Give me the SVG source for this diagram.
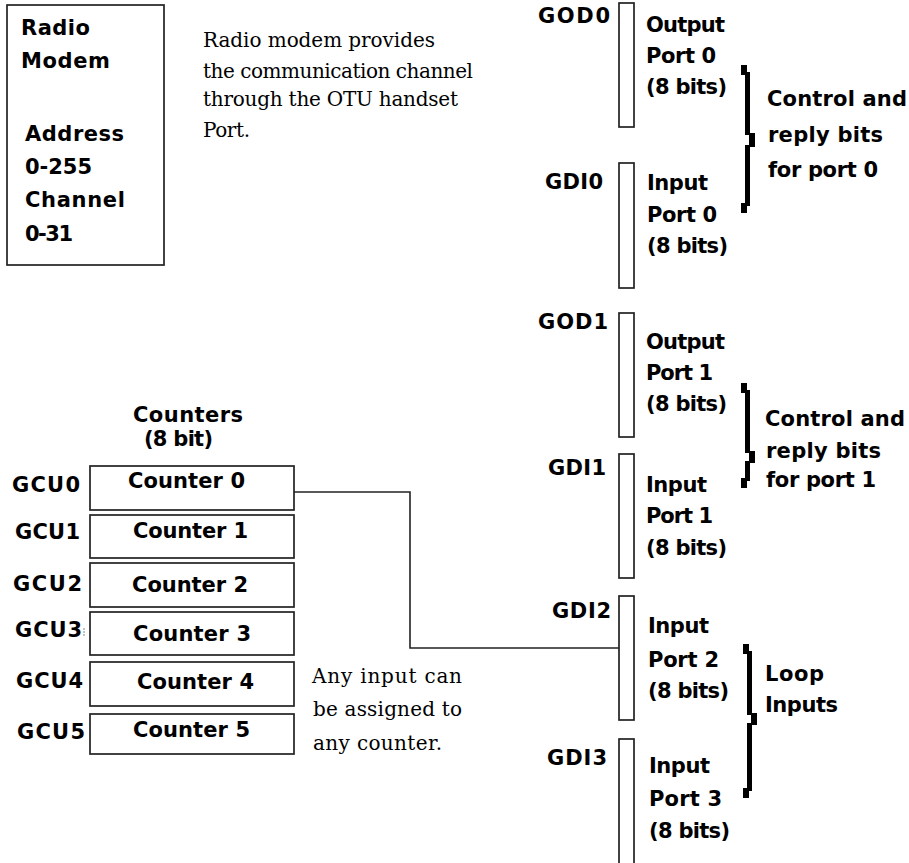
<svg xmlns="http://www.w3.org/2000/svg" width="909" height="863" viewBox="0 0 909 863">
<style>
.b{font-family:"DejaVu Sans","Liberation Sans",sans-serif;font-weight:bold;font-size:21px;fill:#000}
.s{font-family:"DejaVu Serif","Liberation Serif",serif;font-size:20px;fill:#000}
.box{fill:#fff;stroke:#222;stroke-width:1.7}
.br{fill:#000}
.ln{fill:none;stroke:#222;stroke-width:1.6}
</style>
<rect width="909" height="863" fill="#fff"/>

<g id="radio-modem">
<rect class="box" x="7" y="5" width="157" height="260"/>
<text class="b" x="21" y="35" textLength="69" lengthAdjust="spacing">Radio</text>
<text class="b" x="21" y="68" textLength="89" lengthAdjust="spacing">Modem</text>
<text class="b" x="25" y="141" textLength="99" lengthAdjust="spacing">Address</text>
<text class="b" x="25" y="174" textLength="67" lengthAdjust="spacing">0-255</text>
<text class="b" x="25" y="207" textLength="100" lengthAdjust="spacing">Channel</text>
<text class="b" x="25" y="241" textLength="48" lengthAdjust="spacing">0-31</text>
</g>

<g id="radio-note">
<text class="s" x="203" y="47" textLength="232" lengthAdjust="spacing">Radio modem provides</text>
<text class="s" x="203" y="78" textLength="270" lengthAdjust="spacing">the communication channel</text>
<text class="s" x="203" y="106" textLength="255" lengthAdjust="spacing">through the OTU handset</text>
<text class="s" x="203" y="137" textLength="47" lengthAdjust="spacing">Port.</text>
</g>

<g id="port-GOD0">
<rect class="box" x="619" y="3" width="15" height="124"/>
<text class="b" x="538" y="23" textLength="72" lengthAdjust="spacing">GOD0</text>
<text class="b" x="646" y="32" textLength="79" lengthAdjust="spacing">Output</text>
<text class="b" x="646" y="63" textLength="70" lengthAdjust="spacing">Port 0</text>
<text class="b" x="646" y="94" textLength="81" lengthAdjust="spacing">(8 bits)</text>
</g>
<g id="port-GDI0">
<rect class="box" x="619" y="163" width="15" height="125"/>
<text class="b" x="545" y="189" textLength="58" lengthAdjust="spacing">GDI0</text>
<text class="b" x="647" y="190" textLength="61" lengthAdjust="spacing">Input</text>
<text class="b" x="647" y="222" textLength="70" lengthAdjust="spacing">Port 0</text>
<text class="b" x="647" y="253" textLength="81" lengthAdjust="spacing">(8 bits)</text>
</g>
<g id="brace-port0">
<polygon class="br" points="741,65 747,65 747,72 750,72 750,133 755,133 755,147 750,147 750,206 747,206 747,213 741,213 741,203 745,203 745,145 749,145 749,135 745,135 745,75 741,75"/>
<text class="b" x="767" y="106" textLength="140" lengthAdjust="spacing">Control and</text>
<text class="b" x="768" y="142" textLength="115" lengthAdjust="spacing">reply bits</text>
<text class="b" x="768" y="177" textLength="110" lengthAdjust="spacing">for port 0</text>
</g>

<g id="port-GOD1">
<rect class="box" x="619" y="313" width="15" height="124"/>
<text class="b" x="538" y="329" textLength="70" lengthAdjust="spacing">GOD1</text>
<text class="b" x="646" y="349" textLength="79" lengthAdjust="spacing">Output</text>
<text class="b" x="646" y="380" textLength="67" lengthAdjust="spacing">Port 1</text>
<text class="b" x="646" y="411" textLength="81" lengthAdjust="spacing">(8 bits)</text>
</g>
<g id="port-GDI1">
<rect class="box" x="619" y="454" width="15" height="124"/>
<text class="b" x="548" y="475" textLength="58" lengthAdjust="spacing">GDI1</text>
<text class="b" x="646" y="492" textLength="61" lengthAdjust="spacing">Input</text>
<text class="b" x="646" y="523" textLength="67" lengthAdjust="spacing">Port 1</text>
<text class="b" x="646" y="555" textLength="81" lengthAdjust="spacing">(8 bits)</text>
</g>
<g id="brace-port1">
<polygon class="br" points="741,383 747,383 747,390 750,390 750,451 755,451 755,463 750,463 750,481 747,481 747,488 741,488 741,478 745,478 745,461 749,461 749,453 745,453 745,393 741,393"/>
<text class="b" x="765" y="426" textLength="140" lengthAdjust="spacing">Control and</text>
<text class="b" x="766" y="458" textLength="115" lengthAdjust="spacing">reply bits</text>
<text class="b" x="766" y="487" textLength="110" lengthAdjust="spacing">for port 1</text>
</g>

<g id="port-GDI2">
<rect class="box" x="619" y="596" width="15" height="124"/>
<text class="b" x="552" y="618" textLength="59" lengthAdjust="spacing">GDI2</text>
<text class="b" x="648" y="633" textLength="61" lengthAdjust="spacing">Input</text>
<text class="b" x="648" y="667" textLength="71" lengthAdjust="spacing">Port 2</text>
<text class="b" x="648" y="698" textLength="81" lengthAdjust="spacing">(8 bits)</text>
</g>
<g id="port-GDI3">
<rect class="box" x="619" y="739" width="15" height="135"/>
<text class="b" x="547" y="765" textLength="60" lengthAdjust="spacing">GDI3</text>
<text class="b" x="649" y="773" textLength="61" lengthAdjust="spacing">Input</text>
<text class="b" x="649" y="806" textLength="73" lengthAdjust="spacing">Port 3</text>
<text class="b" x="649" y="838" textLength="81" lengthAdjust="spacing">(8 bits)</text>
</g>
<g id="brace-loop">
<polygon class="br" points="743,644 749,644 749,651 752,651 752,713 757,713 757,725 752,725 752,791 749,791 749,798 743,798 743,788 747,788 747,723 751,723 751,715 747,715 747,654 743,654"/>
<text class="b" x="765" y="681" textLength="59" lengthAdjust="spacing">Loop</text>
<text class="b" x="765" y="712" textLength="73" lengthAdjust="spacing">Inputs</text>
</g>

<g id="counters-title">
<text class="b" x="133" y="422" textLength="110" lengthAdjust="spacing">Counters</text>
<text class="b" x="144" y="446" textLength="69" lengthAdjust="spacing">(8 bit)</text>
</g>
<g id="counter-0">
<rect class="box" x="90" y="466" width="204" height="44"/>
<text class="b" x="12" y="492" textLength="68" lengthAdjust="spacing">GCU0</text>
<text class="b" x="128" y="488" textLength="117" lengthAdjust="spacing">Counter 0</text>
</g>
<g id="counter-1">
<rect class="box" x="90" y="515" width="204" height="43"/>
<text class="b" x="15" y="539" textLength="65" lengthAdjust="spacing">GCU1</text>
<text class="b" x="133" y="538" textLength="115" lengthAdjust="spacing">Counter 1</text>
</g>
<g id="counter-2">
<rect class="box" x="90" y="563" width="204" height="44"/>
<text class="b" x="13" y="591" textLength="69" lengthAdjust="spacing">GCU2</text>
<text class="b" x="132" y="592" textLength="116" lengthAdjust="spacing">Counter 2</text>
</g>
<g id="counter-3">
<rect class="box" x="90" y="612" width="204" height="43"/>
<text class="b" x="15" y="637" textLength="67" lengthAdjust="spacing">GCU3</text>
<line x1="84" y1="628" x2="84" y2="637" stroke="#888" stroke-width="1" stroke-dasharray="2,1"/>
<text class="b" x="133" y="641" textLength="118" lengthAdjust="spacing">Counter 3</text>
</g>
<g id="counter-4">
<rect class="box" x="90" y="662" width="204" height="44"/>
<text class="b" x="16" y="688" textLength="67" lengthAdjust="spacing">GCU4</text>
<text class="b" x="137" y="689" textLength="117" lengthAdjust="spacing">Counter 4</text>
</g>
<g id="counter-5">
<rect class="box" x="90" y="714" width="204" height="40"/>
<text class="b" x="17" y="739" textLength="68" lengthAdjust="spacing">GCU5</text>
<text class="b" x="133" y="737" textLength="117" lengthAdjust="spacing">Counter 5</text>
</g>

<g id="counter-note">
<text class="s" x="312" y="683" textLength="150" lengthAdjust="spacing">Any input can</text>
<text class="s" x="313" y="716" textLength="149" lengthAdjust="spacing">be assigned to</text>
<text class="s" x="313" y="750" textLength="129" lengthAdjust="spacing">any counter.</text>
</g>

<g id="connectors">
<polyline class="ln" points="294,492 410,492 410,648 619,648"/>
</g>
</svg>
